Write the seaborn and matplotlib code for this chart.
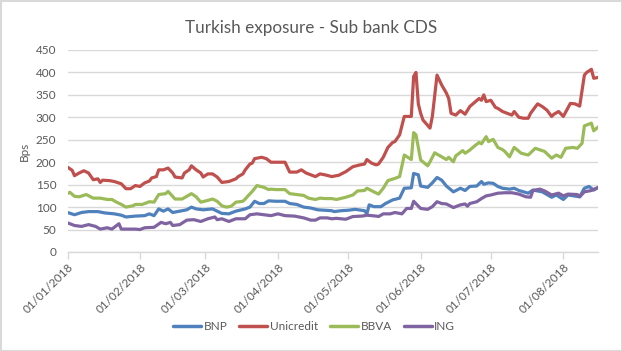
import matplotlib
matplotlib.use("Agg")
import matplotlib.pyplot as plt
import matplotlib.dates as mdates
from matplotlib.patches import Rectangle
import numpy as np
import pandas as pd
import seaborn as sns

# ---------------- data (days since 01/01/2018, CDS in bps) ----------------
start_date = "2018-01-01"
end_day = 227

bnp_days = [0, 3, 6, 9, 13, 16, 20, 23, 25, 29, 33, 35, 37, 39, 41, 43, 45, 48, 51, 53, 55, 58, 62, 64, 66, 69, 72, 76, 78, 80, 82, 84, 86, 89, 93, 95, 98, 101, 104, 107, 110, 113, 114, 117, 120, 123, 127, 128, 129, 131, 134, 136, 139, 142, 144, 147, 148, 150, 151, 154, 156, 158, 160, 162, 165, 168, 170, 172, 175, 177, 178, 180, 182, 184, 186, 189, 191, 193, 197, 199, 203, 207, 209, 212, 214, 219, 221, 223, 225, 227]
bnp_values = [88, 83, 88, 90, 90, 87, 85, 82, 78, 80, 81, 85, 81, 96, 91, 96, 88, 91, 94, 100, 96, 94, 96, 91, 86, 85, 91, 96, 100, 113, 108, 108, 114, 113, 113, 108, 106, 100, 98, 94, 93, 92, 90, 92, 93, 95, 92, 85, 105, 101, 101, 108, 116, 120, 142, 143, 175, 172, 147, 144, 154, 166, 160, 147, 134, 142, 137, 146, 147, 157, 151, 154, 153, 146, 142, 140, 142, 137, 131, 138, 134, 122, 127, 117, 127, 123, 142, 146, 138, 144]

unicredit_days = [0, 2, 3, 5, 7, 9, 11, 13, 14, 15, 18, 20, 23, 25, 27, 29, 31, 33, 35, 36, 38, 39, 41, 43, 45, 46, 49, 50, 52, 53, 55, 57, 58, 60, 62, 64, 66, 69, 72, 73, 75, 76, 78, 79, 80, 83, 85, 87, 89, 91, 93, 95, 98, 100, 102, 104, 106, 108, 110, 113, 116, 119, 122, 125, 127, 128, 130, 132, 133, 135, 137, 139, 140, 142, 144, 147, 148, 149, 150, 151, 152, 155, 156, 158, 160, 162, 163, 164, 166, 168, 170, 172, 174, 176, 177, 178, 179, 181, 183, 184, 186, 188, 189, 190, 191, 193, 195, 197, 198, 201, 203, 205, 207, 208, 210, 212, 215, 217, 219, 221, 222, 224, 225, 227]
unicredit_values = [189, 182, 170, 176, 181, 176, 161, 163, 155, 160, 159, 157, 152, 141, 141, 148, 146, 154, 158, 165, 168, 183, 183, 187, 176, 167, 165, 176, 183, 192, 183, 176, 167, 174, 174, 167, 155, 157, 163, 168, 174, 183, 196, 198, 208, 211, 208, 200, 200, 200, 200, 178, 178, 183, 176, 172, 168, 174, 172, 168, 171, 179, 190, 194, 196, 206, 198, 194, 196, 211, 233, 244, 246, 261, 302, 302, 391, 400, 330, 309, 294, 276, 302, 394, 372, 354, 342, 309, 305, 315, 307, 324, 333, 342, 338, 350, 335, 338, 322, 320, 313, 309, 307, 305, 313, 300, 298, 298, 309, 330, 324, 316, 302, 307, 313, 302, 331, 330, 325, 394, 400, 407, 387, 389]

bbva_days = [0, 1, 3, 5, 8, 11, 14, 17, 19, 21, 23, 25, 28, 29, 32, 35, 37, 39, 42, 43, 46, 49, 51, 53, 55, 57, 60, 62, 64, 66, 68, 70, 72, 75, 76, 77, 79, 81, 84, 86, 87, 89, 93, 95, 98, 101, 103, 106, 108, 110, 113, 115, 119, 122, 124, 127, 128, 131, 133, 135, 137, 140, 142, 144, 147, 148, 149, 151, 154, 155, 157, 160, 162, 163, 165, 166, 169, 170, 172, 174, 176, 177, 179, 180, 182, 184, 186, 187, 189, 191, 194, 197, 200, 204, 207, 209, 211, 213, 216, 218, 220, 221, 224, 225, 227]
bbva_values = [130, 133, 124, 123, 128, 120, 120, 117, 117, 111, 106, 100, 103, 106, 106, 112, 111, 128, 130, 135, 118, 118, 124, 130, 123, 111, 115, 118, 113, 103, 100, 102, 111, 113, 118, 124, 135, 148, 144, 139, 140, 139, 139, 130, 128, 126, 120, 117, 120, 119, 119, 117, 122, 127, 136, 137, 142, 134, 129, 142, 159, 164, 168, 216, 206, 266, 261, 205, 192, 201, 221, 212, 206, 211, 201, 214, 226, 220, 227, 236, 244, 241, 257, 246, 251, 233, 228, 224, 212, 233, 220, 216, 231, 224, 209, 216, 211, 231, 233, 231, 242, 281, 287, 270, 279]

ing_days = [0, 3, 6, 9, 12, 14, 17, 19, 22, 23, 26, 29, 31, 33, 37, 40, 42, 44, 45, 48, 51, 54, 57, 60, 63, 64, 66, 69, 72, 76, 78, 81, 84, 87, 90, 93, 97, 101, 104, 106, 108, 111, 113, 115, 119, 122, 126, 128, 132, 133, 135, 138, 140, 143, 145, 147, 148, 151, 154, 156, 158, 160, 162, 165, 168, 170, 171, 172, 175, 177, 179, 181, 184, 187, 190, 193, 196, 198, 199, 202, 204, 207, 210, 212, 214, 218, 219, 221, 224, 227]
ing_values = [65, 59, 57, 61, 57, 51, 54, 51, 63, 51, 51, 51, 50, 54, 55, 66, 63, 66, 59, 61, 71, 72, 68, 74, 78, 72, 74, 68, 74, 74, 83, 85, 83, 81, 85, 81, 80, 76, 71, 71, 76, 76, 74, 75, 73, 79, 80, 82, 80, 79, 85, 85, 88, 85, 97, 97, 113, 97, 95, 101, 112, 108, 107, 99, 105, 107, 102, 108, 112, 119, 125, 127, 131, 132, 132, 129, 123, 122, 137, 140, 136, 127, 131, 125, 129, 128, 123, 134, 137, 144]

series_names = ["BNP", "Unicredit", "BBVA", "ING"]
series_colors = ["#4F81BD", "#C0504D", "#9BBB59", "#8064A2"]
title = "Turkish exposure - Sub bank CDS"
y_label = "Bps"
y_ticks = [0, 50, 100, 150, 200, 250, 300, 350, 400, 450]

# ---------------- build long-form table ----------------
t0 = pd.Timestamp(start_date)
frames = []
for name, d, v in zip(series_names,
                      [bnp_days, unicredit_days, bbva_days, ing_days],
                      [bnp_values, unicredit_values, bbva_values, ing_values]):
    frames.append(pd.DataFrame({"date": t0 + pd.to_timedelta(d, unit="D"),
                                "value": v, "bank": name}))
df = pd.concat(frames, ignore_index=True)

# ---------------- plot ----------------
sns.set_theme(style="white")
plt.rcParams["font.family"] = ["Lato", "DejaVu Sans"]
text_color = "#595959"
grid_color = "#D9D9D9"

fig = plt.figure(figsize=(6.22, 3.51), dpi=100)
ax = fig.add_axes([67.5 / 622, 1 - 252 / 351, (598.4 - 67.5) / 622, (252 - 50) / 351])

sns.lineplot(data=df, x="date", y="value", hue="bank", hue_order=series_names,
             palette=series_colors, estimator=None, sort=True, linewidth=2.3,
             ax=ax, legend=True)

ax.set_ylim(0, 450)
ax.set_yticks(y_ticks)
ax.set_xlim(t0, t0 + pd.Timedelta(days=end_day))
ax.xaxis.set_major_locator(mdates.MonthLocator())
ax.xaxis.set_major_formatter(mdates.DateFormatter("%d/%m/%Y"))

ax.yaxis.grid(True, color=grid_color, linewidth=1)
ax.xaxis.grid(False)
ax.set_axisbelow(True)
for s in ["top", "right", "left"]:
    ax.spines[s].set_visible(False)
ax.spines["bottom"].set_color(grid_color)
ax.spines["bottom"].set_linewidth(1)

ax.tick_params(axis="y", length=0, labelsize=8.5, labelcolor=text_color, pad=8)
ax.tick_params(axis="x", length=5, width=1, color=grid_color, direction="out",
               labelsize=8.5, labelcolor=text_color, pad=2, bottom=True)
for lab in ax.get_xticklabels():
    lab.set_rotation(45)
    lab.set_ha("right")
    lab.set_va("top")
    lab.set_rotation_mode("anchor")

ax.set_xlabel("")
ax.set_ylabel(y_label, color=text_color, fontsize=8.5, labelpad=6)
ax.yaxis.set_label_coords(-0.07, 0.5)

fig.text(311 / 622, 1 - 28 / 351, title, ha="center", va="center",
         fontsize=12.3, color=text_color)

handles, labels = ax.get_legend_handles_labels()
ax.get_legend().remove()
leg = fig.legend(handles, labels, loc="center", bbox_to_anchor=(314 / 622, 1 - 327 / 351),
                 ncol=4, frameon=False, fontsize=8.5, handlelength=2.4,
                 columnspacing=1.0, handletextpad=0.2)
for t in leg.get_texts():
    t.set_color(text_color)
for h in leg.legend_handles:
    h.set_linewidth(2.5)

fig.patches.append(Rectangle((0.5 / 622, 0.5 / 351), 1 - 1 / 622, 1 - 1 / 351,
                             transform=fig.transFigure, fill=False,
                             edgecolor=grid_color, linewidth=1.5))

fig.savefig("out.png", dpi=100)
